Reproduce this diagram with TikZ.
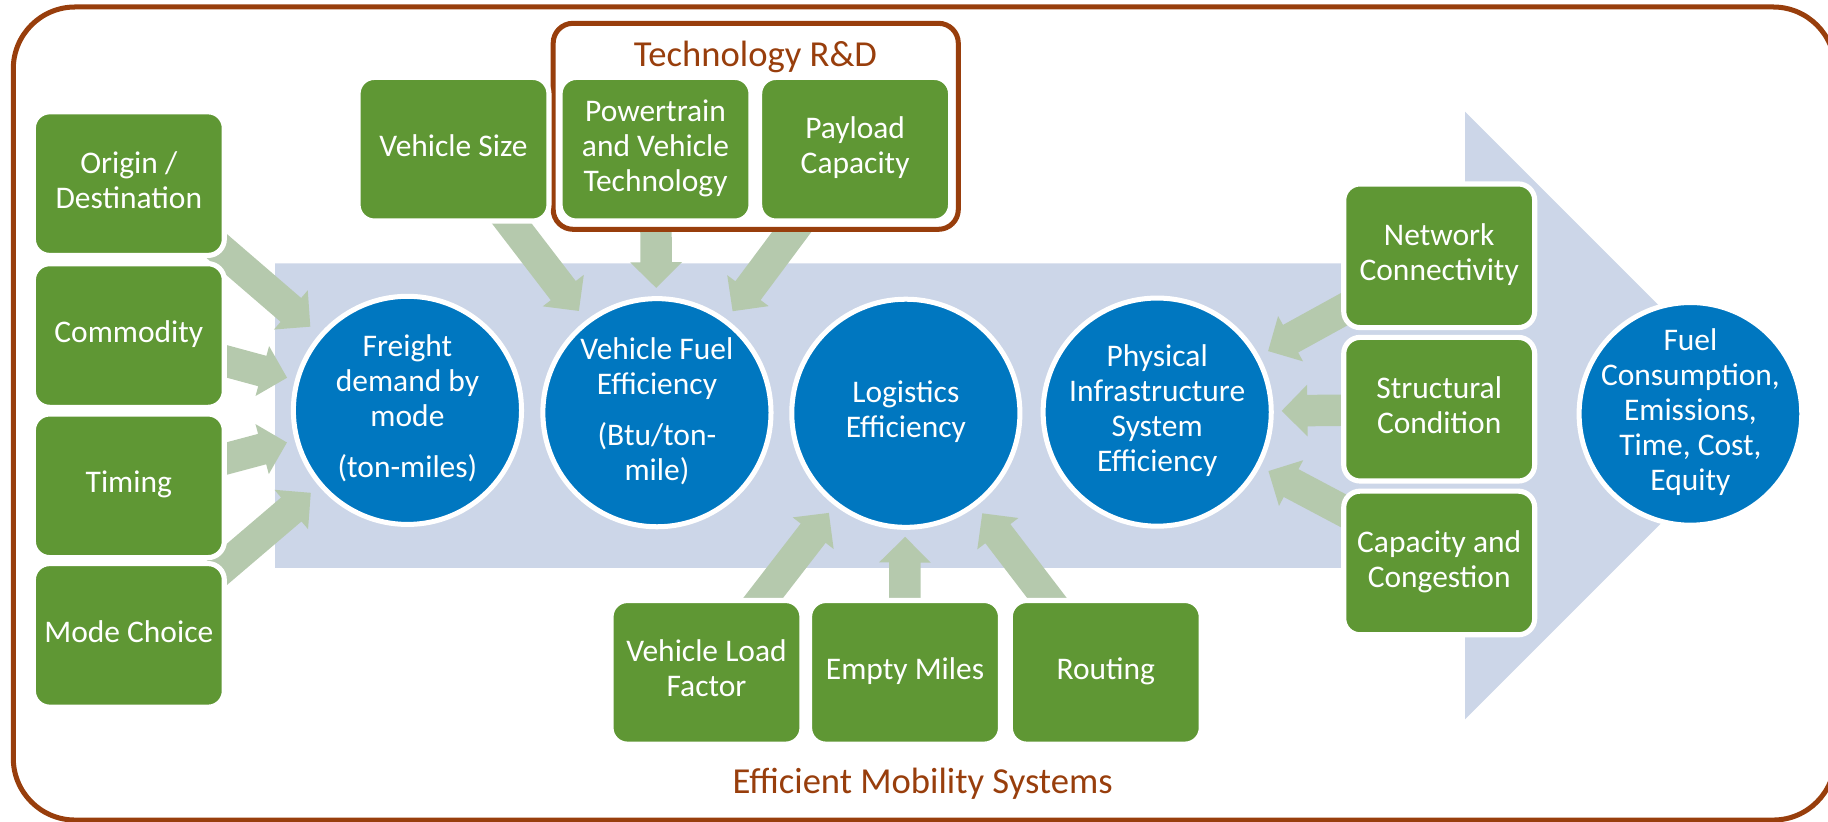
\documentclass[tikz,border=0pt]{standalone}
\usepackage{fontspec}
\setmainfont{Carlito}
\usetikzlibrary{calc}
\definecolor{brownc}{RGB}{152,62,12}
\definecolor{greenc}{RGB}{95,151,52}
\definecolor{bluec}{RGB}{0,119,192}
\definecolor{bandc}{RGB}{204,214,232}
\definecolor{arrowc}{RGB}{181,201,173}
\newcommand{\garrow}[2]{%
  \coordinate (gah) at ($(#2)!11pt!(#1)$);
  \fill[arrowc] ($(#1)!6.75pt!90:(#2)$) -- ($(gah)!6.75pt!90:(#2)$) -- ($(gah)!11.1pt!90:(#2)$) -- (#2) -- ($(gah)!11.1pt!-90:(#2)$) -- ($(gah)!6.75pt!-90:(#2)$) -- ($(#1)!6.75pt!-90:(#2)$) -- cycle;}
\tikzset{
  gbox/.style={draw=white, line width=2.2pt, fill=greenc, rounded corners=7pt, minimum width=81.9pt, minimum height=61.6pt, inner sep=0pt, text=white, align=center, font=\fontsize{13.5}{15}\selectfont},
  circ/.style={circle, draw=white, line width=2.15pt, fill=bluec, minimum size=97.85pt, inner sep=0pt},
  ctext/.style={text=white, align=center, inner sep=0pt, font=\fontsize{13.5}{15}\selectfont},
  ttl/.style={text=brownc, inner sep=0pt, anchor=base, font=\fontsize{15.7}{18}\selectfont},
  techbox/.style={draw=brownc, line width=2.15pt, fill=white, rounded corners=8.5pt, minimum width=173.75pt, minimum height=88.35pt, inner sep=0pt}
}
\begin{document}
\begin{tikzpicture}[x=0.5pt,y=-0.5pt]
\useasboundingbox (0,0) rectangle (1568,705);
% outer frame
\draw[brownc, line width=2.15pt, rounded corners=26.5pt] (11.4,6) rectangle (1574,703.4);
% big arrow band
\fill[bandc] (236,226) -- (1256.7,226) -- (1256.7,95.8) -- (1517.3,356.4) -- (1256.7,617) -- (1256.7,487) -- (236,487) -- cycle;
% circles
\node[circ] (c1) at (349.5,352) {};
\node[circ] (c2) at (563.5,354) {};
\node[circ] (c3) at (777,354.5) {};
\node[circ] (c4) at (992.6,353.5) {};
\node[circ, minimum size=95.5pt] (c5) at (1450,355) {};
\node[ctext] (c1t) at (c1) {\strut Freight\\ demand by\\ mode\\[7pt] (ton-miles)\strut};
\node[ctext] (c2t) at (c2) {\strut Vehicle Fuel\\ Efficiency\\[7pt] (Btu/ton-\\ mile)\strut};
\node[ctext] (c3t) at (c3) {\strut Logistics\\ Efficiency\strut};
\node[ctext] (c4t) at (c4) {\strut Physical\\ Infrastructure\\ System\\ Efficiency\strut};
\node[ctext] (c5t) at (c5) {\strut Fuel\\ Consumption,\\ Emissions,\\ Time, Cost,\\ Equity\strut};
% arrow tails
\coordinate (t1) at (176,202.5);
\coordinate (t2) at (175,304.7);
\coordinate (t3) at (175,398.5);
\coordinate (t4) at (176,500);
\coordinate (t5) at (430,180);
\coordinate (t6) at (562.6,185);
\coordinate (t7) at (689.4,185.2);
\coordinate (t8) at (645.7,524.4);
\coordinate (t9) at (776,524);
\coordinate (t10) at (906.9,524.5);
\coordinate (t11) at (1168.5,256.7);
\coordinate (t12) at (1170,351.7);
\coordinate (t13) at (1168.7,446.8);
% arrow tips
\coordinate (e1) at ($(c1)!55pt!(t1)$);
\coordinate (e2) at ($(c1)!53.5pt!(t2)$);
\coordinate (e3) at ($(c1)!53.5pt!(t3)$);
\coordinate (e4) at ($(c1)!54.5pt!(t4)$);
\coordinate (e5) at ($(c2)!55pt!(t5)$);
\coordinate (e6) at ($(c2)!53.5pt!(t6)$);
\coordinate (e7) at ($(c2)!54.3pt!(t7)$);
\coordinate (e8) at ($(c3)!54pt!(t8)$);
\coordinate (e9) at ($(c3)!53pt!(t9)$);
\coordinate (e10) at ($(c3)!54pt!(t10)$);
\coordinate (e11) at ($(c4)!54.3pt!(t11)$);
\coordinate (e12) at ($(c4)!53.4pt!(t12)$);
\coordinate (e13) at ($(c4)!54pt!(t13)$);
\garrow{t1}{e1}
\garrow{t2}{e2}
\garrow{t3}{e3}
\garrow{t4}{e4}
\garrow{t5}{e5}
\garrow{t6}{e6}
\garrow{t7}{e7}
\garrow{t8}{e8}
\garrow{t9}{e9}
\garrow{t10}{e10}
\garrow{t11}{e11}
\garrow{t12}{e12}
\garrow{t13}{e13}
% technology R&D frame
\node[techbox] (tech) at (648.25,108.35) {};
\node[ttl] (techlabel) at (648,57) {Technology R\&D};
% boxes
\node[gbox] (orig) at (110.5,157.5) {\strut Origin /\\ Destination\strut};
\node[gbox] (comm) at (110.5,287.8) {\strut Commodity\strut};
\node[gbox] (timing) at (110.5,416.7) {\strut Timing\strut};
\node[gbox] (mode) at (110.5,545) {\strut Mode Choice\strut};
\node[gbox] (vsize) at (389,128) {\strut Vehicle Size\strut};
\node[gbox] (power) at (562.3,128) {\strut Powertrain\\ and Vehicle\\ Technology\strut};
\node[gbox] (payload) at (733.5,128) {\strut Payload\\ Capacity\strut};
\node[gbox] (vlf) at (606,576.7) {\strut Vehicle Load\\ Factor\strut};
\node[gbox] (empty) at (776.3,576.7) {\strut Empty Miles\strut};
\node[gbox] (routing) at (948.5,576.7) {\strut Routing\strut};
\node[gbox] (network) at (1234.5,219.4) {\strut Network\\ Connectivity\strut};
\node[gbox] (struct) at (1234.5,351) {\strut Structural\\ Condition\strut};
\node[gbox] (capacity) at (1234.5,482.9) {\strut Capacity and\\ Congestion\strut};
% bottom title
\node[ttl] (emslabel) at (791.4,680.5) {Efficient Mobility Systems};
\end{tikzpicture}
\end{document}
